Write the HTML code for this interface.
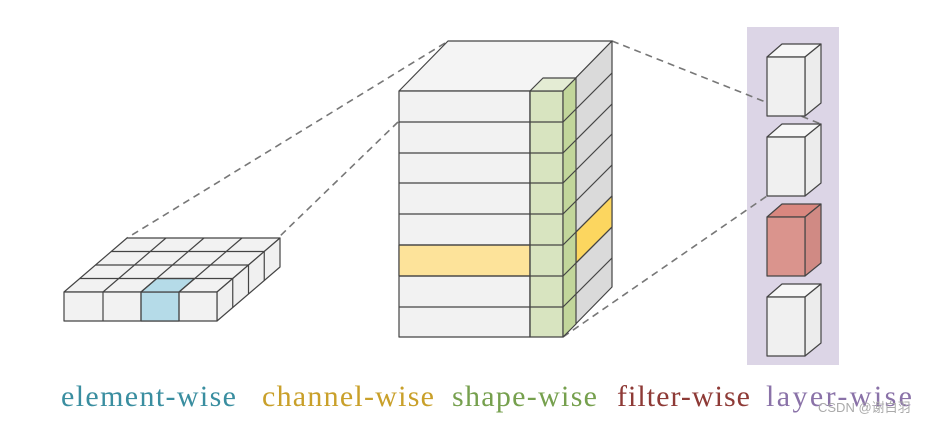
<!DOCTYPE html>
<html><head><meta charset="utf-8"><style>
html,body{margin:0;padding:0;background:#fff;}
svg{display:block;}
</style></head><body>
<svg width="943" height="422" viewBox="0 0 943 422" xmlns="http://www.w3.org/2000/svg">
<rect width="943" height="422" fill="#fff"/>
<rect x="747" y="27" width="92" height="338" fill="#dcd5e6"/>

<g stroke="#777" stroke-width="1.6" stroke-dasharray="7,5" fill="none">
<line x1="445" y1="43" x2="127" y2="238"/>
<line x1="398" y1="122" x2="278" y2="238"/>
<line x1="612" y1="41" x2="821" y2="124"/>
<line x1="563" y1="337" x2="767" y2="196"/>
</g>

<!-- small grid -->
<g stroke="#444" stroke-width="1.2" stroke-linejoin="round">
<polygon points="64,292 127,238 280,238 217,292" fill="#f2f2f2"/>
<polygon points="217,292 280,238 280,267 217,321" fill="#f0f0f0"/>
<polygon points="64,292 217,292 217,321 64,321" fill="#f2f2f2"/>
<rect x="141" y="292" width="38" height="29" fill="#b5dbe8"/>
<polygon points="141,292 179,292 194.75,278.5 156.75,278.5" fill="#b5dbe8"/>
<g fill="none">
<line x1="103" y1="292" x2="103" y2="321"/>
<line x1="141" y1="292" x2="141" y2="321"/>
<line x1="179" y1="292" x2="179" y2="321"/>
<line x1="79.75" y1="278.5" x2="232.75" y2="278.5"/>
<line x1="95.5" y1="265" x2="248.5" y2="265"/>
<line x1="111.25" y1="251.5" x2="264.25" y2="251.5"/>
<line x1="103" y1="292" x2="166" y2="238"/>
<line x1="141" y1="292" x2="204" y2="238"/>
<line x1="179" y1="292" x2="242" y2="238"/>
<line x1="232.75" y1="278.5" x2="232.75" y2="307.5"/>
<line x1="248.5" y1="265" x2="248.5" y2="294"/>
<line x1="264.25" y1="251.5" x2="264.25" y2="280.5"/>
</g>
</g>

<!-- big block -->
<g stroke="#444" stroke-width="1.2" stroke-linejoin="round">
<polygon points="399,91 448,41 612,41 563,91" fill="#f4f4f4"/>
<polygon points="563,91 612,41 612,287 563,337" fill="#dadada"/>
<polygon points="576,232 612,196 612,227 576,263" fill="#fcd65f"/>
<rect x="399" y="91" width="131" height="246" fill="#f2f2f2"/>
<rect x="399" y="245" width="131" height="31" fill="#fde39a"/>
<rect x="530" y="91" width="33" height="246" fill="#d8e4c0"/>
<polygon points="530,91 543,78 576,78 563,91" fill="#e4ecd4"/>
<polygon points="563,91 576,78 576,324 563,337" fill="#c2d69b"/>
<g fill="none">
<line x1="399" y1="122" x2="563" y2="122"/>
<line x1="399" y1="153" x2="563" y2="153"/>
<line x1="399" y1="183" x2="563" y2="183"/>
<line x1="399" y1="214" x2="563" y2="214"/>
<line x1="399" y1="245" x2="563" y2="245"/>
<line x1="399" y1="276" x2="563" y2="276"/>
<line x1="399" y1="307" x2="563" y2="307"/>
<line x1="563" y1="122" x2="612" y2="73"/>
<line x1="563" y1="153" x2="612" y2="104"/>
<line x1="563" y1="183" x2="612" y2="134"/>
<line x1="563" y1="214" x2="612" y2="165"/>
<line x1="563" y1="245" x2="612" y2="196"/>
<line x1="563" y1="276" x2="612" y2="227"/>
<line x1="563" y1="307" x2="612" y2="258"/>
<line x1="530" y1="91" x2="530" y2="337"/>
</g>
</g>

<!-- layer cubes -->
<g stroke="#444" stroke-width="1.2" stroke-linejoin="round">
<g>
<polygon points="767,57 782,44 821,44 805,57" fill="#f7f7f7"/>
<polygon points="805,57 821,44 821,103 805,116" fill="#ececec"/>
<rect x="767" y="57" width="38" height="59" fill="#f0f0f0"/>
</g>
<g>
<polygon points="767,137 782,124 821,124 805,137" fill="#f7f7f7"/>
<polygon points="805,137 821,124 821,183 805,196" fill="#ececec"/>
<rect x="767" y="137" width="38" height="59" fill="#f0f0f0"/>
</g>
<g>
<polygon points="767,217 782,204 821,204 805,217" fill="#d9877f"/>
<polygon points="805,217 821,204 821,263 805,276" fill="#d08a84"/>
<rect x="767" y="217" width="38" height="59" fill="#da948d"/>
</g>
<g>
<polygon points="767,297 782,284 821,284 805,297" fill="#f7f7f7"/>
<polygon points="805,297 821,284 821,343 805,356" fill="#ececec"/>
<rect x="767" y="297" width="38" height="59" fill="#f0f0f0"/>
</g>
</g>

<g font-family="Liberation Serif, serif" font-size="30">
<text x="61" y="406" fill="#3a8ea0" textLength="175">element-wise</text>
<text x="262" y="406" fill="#c9a02a" textLength="172">channel-wise</text>
<text x="452" y="406" fill="#76a04e" textLength="145">shape-wise</text>
<text x="617" y="406" fill="#8e3a36" textLength="133">filter-wise</text>
<text x="766" y="406" fill="#8a72a8" textLength="146">layer-wise</text>
</g>
<text x="818" y="412" font-family="Liberation Sans, 'Noto Sans CJK SC', sans-serif" font-size="13" fill="#aaa">CSDN @谢白羽</text>
</svg>
</body></html>
